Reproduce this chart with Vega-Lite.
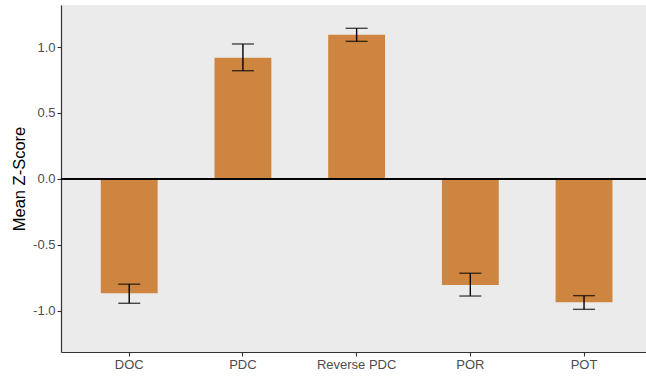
{
  "$schema": "https://vega.github.io/schema/vega-lite/v6.json",
  "autosize": "none",
  "width": 585,
  "height": 347,
  "padding": {"left": 61, "top": 5, "right": 0, "bottom": 25},
  "background": "white",
  "config": {
    "view": {"fill": "#EBEBEB", "stroke": null},
    "font": "Liberation Sans",
    "axis": {
      "grid": false,
      "domainColor": "#333333",
      "domainWidth": 1.2,
      "tickColor": "#333333",
      "tickSize": 4,
      "tickWidth": 1.1,
      "labelColor": "#4D4D4D",
      "labelFont": "Liberation Sans",
      "labelFontSize": 13,
      "labelPadding": 2,
      "titleFont": "Liberation Sans",
      "titleColor": "#000000",
      "titleFontSize": 16.5,
      "titleFontWeight": "normal"
    }
  },
  "data": {
    "values": [
      {"group": "DOC", "mean": -0.869, "lo": -0.945, "hi": -0.800},
      {"group": "PDC", "mean": 0.920, "lo": 0.821, "hi": 1.024},
      {"group": "Reverse PDC", "mean": 1.095, "lo": 1.044, "hi": 1.143},
      {"group": "POR", "mean": -0.806, "lo": -0.890, "hi": -0.717},
      {"group": "POT", "mean": -0.938, "lo": -0.991, "hi": -0.887}
    ]
  },
  "encoding": {
    "x": {
      "field": "group",
      "type": "nominal",
      "sort": null,
      "scale": {"paddingInner": 0.5, "paddingOuter": 0.3225, "align": 0.5426},
      "axis": {"title": null, "labelAngle": 0}
    }
  },
  "layer": [
    {
      "mark": {"type": "bar", "color": "#CD853F"},
      "encoding": {
        "y": {
          "field": "mean",
          "type": "quantitative",
          "scale": {"domain": [-1.315, 1.32], "nice": false, "zero": false},
          "axis": {
            "title": "Mean Z-Score",
            "values": [-1, -0.5, 0, 0.5, 1],
            "format": ".1f",
            "labelExpr": "replace(datum.label, '−', '-')",
            "titlePadding": 5
          }
        }
      }
    },
    {
      "mark": {"type": "rule", "color": "#000000", "strokeWidth": 1.4},
      "encoding": {
        "y": {"field": "lo", "type": "quantitative"},
        "y2": {"field": "hi"}
      }
    },
    {
      "mark": {"type": "tick", "color": "#000000", "size": 22, "thickness": 1.4, "orient": "horizontal"},
      "encoding": {"y": {"field": "lo", "type": "quantitative"}}
    },
    {
      "mark": {"type": "tick", "color": "#000000", "size": 22, "thickness": 1.4, "orient": "horizontal"},
      "encoding": {"y": {"field": "hi", "type": "quantitative"}}
    },
    {
      "mark": {"type": "rule", "color": "#000000", "strokeWidth": 1.4},
      "encoding": {"y": {"datum": 0}, "x": {"value": 0}, "x2": {"value": 585}}
    }
  ]
}
